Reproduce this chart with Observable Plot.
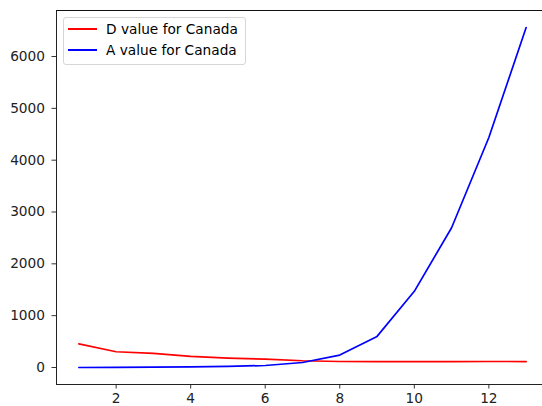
<!DOCTYPE html>
<html>
<head>
<meta charset="utf-8">
<script src="https://cdn.jsdelivr.net/npm/d3@7"></script>
<script src="https://cdn.jsdelivr.net/npm/@observablehq/plot@0.6"></script>
<style>
  html, body { margin: 0; padding: 0; background: #fff; }
  #wrap { position: relative; width: 542px; height: 406px; overflow: hidden; }
  #legend {
    position: absolute; left: 63px; top: 17px; width: 181px; height: 46px;
    border: 1px solid #d6d6d6; border-radius: 3px; background: rgba(255,255,255,0.8);
    font-family: "DejaVu Sans", sans-serif; font-size: 13.7px; color: #000;
  }
  .item { position: absolute; left: 0; height: 16px; }
  .swatch { position: absolute; left: 4px; width: 29px; height: 2px; }
  .label { position: absolute; left: 42px; white-space: nowrap; line-height: 16px; top: 0; }
</style>
</head>
<body>
<div id="wrap"><div id="legend"></div></div>
<script>
const xValues = [1, 2, 3, 4, 5, 6, 7, 8, 9, 10, 11, 12, 13];
const dValues = [455, 304, 271, 213, 182, 160, 130, 116, 115, 115, 115, 116, 115];
const aValues = [0, 3, 6, 12, 20, 39, 97, 240, 600, 1470, 2696, 4437, 6560];
const seriesNames = ["D value for Canada", "A value for Canada"];
const seriesColors = ["#ff0000", "#0000ff"];
const xTicks = [2, 4, 6, 8, 10, 12];
const yTicks = [0, 1000, 2000, 3000, 4000, 5000, 6000];

const rows = [];
xValues.forEach((x, i) => {
  rows.push({x, v: dValues[i], s: seriesNames[0]});
  rows.push({x, v: aValues[i], s: seriesNames[1]});
});

// matplotlib-like 5% margins
const xMin = d3.min(xValues), xMax = d3.max(xValues);
const allV = dValues.concat(aValues);
const vMin = d3.min(allV), vMax = d3.max(allV);
const xPad = (xMax - xMin) * 0.05, vPad = (vMax - vMin) * 0.05;
const xDom = [xMin - xPad, xMax + xPad];
const yDom = [vMin - vPad, vMax + vPad];

const font = "DejaVu Sans, sans-serif";
const chart = Plot.plot({
  width: 542,
  height: 406,
  marginLeft: 56,
  marginTop: 10,
  marginBottom: 22,
  marginRight: 0,
  style: {fontFamily: font, fontSize: "13.7px", color: "#000", background: "#fff", overflow: "hidden"},
  x: {domain: xDom, range: [56, 548]},
  y: {domain: yDom},
  color: {domain: seriesNames, range: seriesColors},
  marks: [
    Plot.axisX({ticks: xTicks, tickSize: 4.5, tickPadding: 4, label: null, tickFormat: d => String(d), stroke: "#333", fill: "#222", fontSize: 13.7}),
    Plot.axisY({ticks: yTicks, tickSize: 4.5, tickPadding: 7, label: null, tickFormat: d => String(d), stroke: "#333", fill: "#222", fontSize: 13.7}),
    Plot.line(rows, {x: "x", y: "v", z: "s", stroke: "s", strokeWidth: 1.7}),
    Plot.ruleX([xDom[0]], {stroke: "#222", strokeWidth: 1}),
    Plot.ruleY([yDom[0]], {stroke: "#222", strokeWidth: 1}),
    Plot.ruleY([yDom[1]], {stroke: "#111", strokeWidth: 1})
  ]
});
document.getElementById("wrap").prepend(chart);

const legend = document.getElementById("legend");
seriesNames.forEach((name, i) => {
  const item = document.createElement("div");
  item.className = "item";
  item.style.top = (3 + i * 21) + "px";
  item.style.width = "100%";
  const sw = document.createElement("div");
  sw.className = "swatch";
  sw.style.background = seriesColors[i];
  sw.style.top = "7px";
  const lb = document.createElement("div");
  lb.className = "label";
  lb.textContent = name;
  item.appendChild(sw);
  item.appendChild(lb);
  legend.appendChild(item);
});
</script>
</body>
</html>
